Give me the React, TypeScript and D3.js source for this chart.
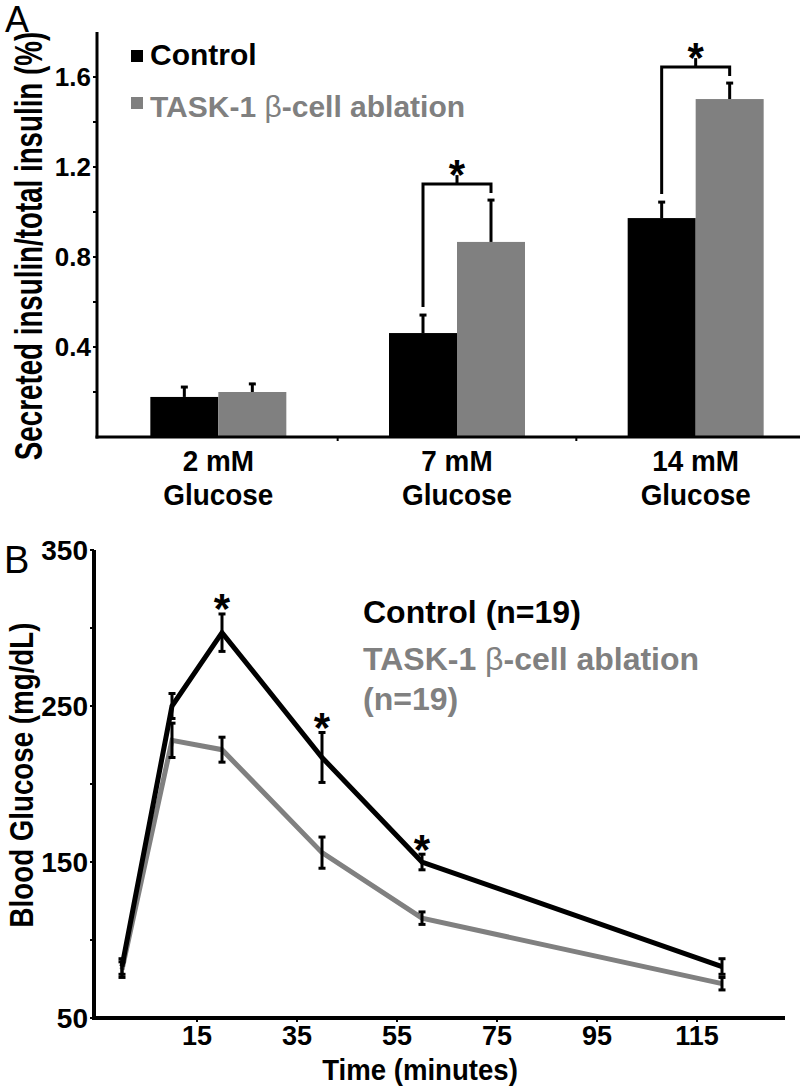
import React from "react";
import * as d3 from "d3";

// ---------- Panel A data ----------
const groupsA = ["2 mM", "7 mM", "14 mM"];
const groupSubLabel = "Glucose";
const seriesA = ["Control", "TASK-1"];
const controlA = [0.178, 0.462, 0.973];
const controlAErr = [0.044, 0.08, 0.071];
const taskA = [0.2, 0.867, 1.502];
const taskAErr = [0.036, 0.186, 0.071];
const sigA = [false, true, true];
const yTicksA = [0.4, 0.8, 1.2, 1.6];
const yMinorA = [0.2, 0.6, 1.0, 1.4];

// ---------- Panel B data ----------
const timesB = [0, 10, 20, 40, 60, 120];
const controlB = [83, 250, 297, 217, 150, 83];
const controlBErr = [5, 8, 12, 16, 5, 5];
const taskB = [81, 228, 222, 156, 114, 72];
const taskBErr = [5, 11, 8, 10, 4, 4];
const sigB = [false, false, true, true, true, false];
const xTicksB = [15, 35, 55, 75, 95, 115];
const yTicksB = [50, 150, 250, 350];
const yMinorB = [100, 200, 300];

const BLACK = "#000";
const GRAY = "#808080";
const FONT = "'Liberation Sans', Arial, Helvetica, sans-serif";

export default function App() {
  // ----- scales A -----
  const yA = d3.scaleLinear().domain([0, 1.8]).range([437, 32]);
  const xG = d3.scaleBand<string>().domain(groupsA).range([99, 815]);
  const xS = d3
    .scaleBand<string>()
    .domain(seriesA)
    .range([0, xG.bandwidth()])
    .paddingInner(0)
    .paddingOuter(0.755);
  const bw = xS.bandwidth();

  // ----- scales B -----
  const xB = d3.scaleLinear().domain([-5.6, 132.6]).range([94, 785]);
  const yB = d3.scaleLinear().domain([50, 350]).range([1018, 550]);
  const lineGen = d3
    .line<number>()
    .x((_, i) => xB(timesB[i]))
    .y((d) => yB(d));

  const starFs = 42;
  const starOff = 0.56 * starFs;

  const errUp = (x: number, y0: number, y1: number, key: string) => (
    <g key={key} stroke={BLACK} strokeWidth={3}>
      <line x1={x} x2={x} y1={y0} y2={y1} />
      <line x1={x - 3.5} x2={x + 3.5} y1={y1} y2={y1} />
    </g>
  );
  const errBoth = (x: number, yLo: number, yHi: number, key: string) => (
    <g key={key} stroke={BLACK} strokeWidth={3}>
      <line x1={x} x2={x} y1={yLo} y2={yHi} />
      <line x1={x - 3.5} x2={x + 3.5} y1={yLo} y2={yLo} />
      <line x1={x - 3.5} x2={x + 3.5} y1={yHi} y2={yHi} />
    </g>
  );

  return (
    <svg
      width={800}
      height={1086}
      style={{ position: "absolute", left: 0, top: 0, display: "block", background: "#fff" }}
      fontFamily={FONT}
    >
      <rect width={800} height={1086} fill="#fff" />

      {/* ================= Panel A ================= */}
      <text x={5} y={32} fontSize={36} fill={BLACK}>A</text>

      {/* bars */}
      {groupsA.map((g, i) => {
        const x0 = xG(g)!;
        const xc = x0 + xS("Control")!;
        const xt = x0 + xS("TASK-1")!;
        return (
          <g key={g}>
            <rect x={xc} y={yA(controlA[i])} width={bw} height={yA(0) - yA(controlA[i])} fill={BLACK} />
            <rect x={xt} y={yA(taskA[i])} width={bw} height={yA(0) - yA(taskA[i])} fill={GRAY} />
            {errUp(xc + bw / 2, yA(controlA[i]), yA(controlA[i] + controlAErr[i]), "ec")}
            {errUp(xt + bw / 2, yA(taskA[i]), yA(taskA[i] + taskAErr[i]), "et")}
          </g>
        );
      })}

      {/* significance brackets A */}
      {groupsA.map((g, i) => {
        if (!sigA[i]) return null;
        const x0 = xG(g)!;
        const xl = x0 + xS("Control")! + bw / 2;
        const xr = x0 + xS("TASK-1")! + bw / 2;
        const topC = yA(controlA[i] + controlAErr[i]);
        const topT = yA(taskA[i] + taskAErr[i]);
        const yb = Math.min(topC, topT) - 16;
        const xm = (xl + xr) / 2;
        return (
          <g key={"sig" + g}>
            <path
              d={`M${xl},${topC - 8}V${yb}H${xr}V${topT - 7}`}
              fill="none"
              stroke={BLACK}
              strokeWidth={3}
            />
            <line x1={xm} x2={xm} y1={yb} y2={yb - 9} stroke={BLACK} strokeWidth={3} />
            <text x={xm} y={yb - 19 + starOff} fontSize={starFs} fontWeight="bold" textAnchor="middle">*</text>
          </g>
        );
      })}

      {/* axes A */}
      <line x1={97} x2={97} y1={yA(1.8)} y2={yA(0) + 1.5} stroke={BLACK} strokeWidth={3} />
      <line x1={95.5} x2={800} y1={yA(0)} y2={yA(0)} stroke={BLACK} strokeWidth={3} />
      {yTicksA.concat(yMinorA).map((t) => (
        <line key={"ta" + t} x1={93} x2={97} y1={yA(t)} y2={yA(t)} stroke={BLACK} strokeWidth={2} />
      ))}
      {groupsA.slice(1).map((g) => (
        <line key={"xt" + g} x1={xG(g)!} x2={xG(g)!} y1={yA(0)} y2={yA(0) + 4} stroke={BLACK} strokeWidth={2} />
      ))}
      {yTicksA.map((t) => (
        <text key={"tl" + t} x={91} y={yA(t) + 9} fontSize={26} fontWeight="bold" textAnchor="end">
          {t.toFixed(1)}
        </text>
      ))}
      {groupsA.map((g) => {
        const xc = xG(g)! + xG.bandwidth() / 2;
        return (
          <g key={"gl" + g} fontSize={30} fontWeight="bold" textAnchor="middle">
            <text transform={`translate(${xc},471) scale(0.93,1)`}>{g}</text>
            <text transform={`translate(${xc},505) scale(0.93,1)`}>{groupSubLabel}</text>
          </g>
        );
      })}
      <text
        transform="translate(42,246) rotate(-90) scale(0.73,1)"
        fontSize={38}
        fontWeight="bold"
        textAnchor="middle"
      >
        Secreted insulin/total insulin (%)
      </text>

      {/* legend A */}
      <rect x={131} y={50} width={12} height={12} fill={BLACK} />
      <text x={150} y={65} fontSize={30} fontWeight="bold" fill={BLACK}>Control</text>
      <rect x={131} y={97} width={12} height={12} fill={GRAY} />
      <text x={150} y={117} fontSize={30} fontWeight="bold" fill={GRAY}>
        TASK-1 <tspan fontWeight="normal">β</tspan>-cell ablation
      </text>

      {/* ================= Panel B ================= */}
      <text x={4} y={573} fontSize={38} fill={BLACK}>B</text>

      <path d={lineGen(taskB)!} fill="none" stroke={GRAY} strokeWidth={5} strokeLinejoin="miter" />
      <path d={lineGen(controlB)!} fill="none" stroke={BLACK} strokeWidth={5} strokeLinejoin="miter" />

      {timesB.map((t, i) => (
        <g key={"eb" + t}>
          {errBoth(xB(t), yB(controlB[i] - controlBErr[i]), yB(controlB[i] + controlBErr[i]), "c")}
          {errBoth(xB(t), yB(taskB[i] - taskBErr[i]), yB(taskB[i] + taskBErr[i]), "t")}
          {sigB[i] && (
            <text
              x={xB(t)}
              y={yB(controlB[i] + controlBErr[i]) - 14 + starOff}
              fontSize={starFs}
              fontWeight="bold"
              textAnchor="middle"
            >
              *
            </text>
          )}
        </g>
      ))}

      {/* axes B */}
      <line x1={94} x2={94} y1={yB(350)} y2={yB(50) + 2} stroke={BLACK} strokeWidth={4} />
      <line x1={92} x2={785} y1={yB(50)} y2={yB(50)} stroke={BLACK} strokeWidth={4} />
      {yTicksB.concat(yMinorB).map((t) => (
        <line key={"tb" + t} x1={90} x2={94} y1={yB(t)} y2={yB(t)} stroke={BLACK} strokeWidth={2} />
      ))}
      {xTicksB.map((t) => (
        <line key={"xb" + t} x1={xB(t)} x2={xB(t)} y1={yB(50)} y2={yB(50) + 4} stroke={BLACK} strokeWidth={2} />
      ))}
      {yTicksB.map((t) => (
        <text key={"ybl" + t} x={88} y={yB(t) + 10} fontSize={28} fontWeight="bold" textAnchor="end">
          {t}
        </text>
      ))}
      {xTicksB.map((t) => (
        <text key={"xbl" + t} x={xB(t)} y={1045} fontSize={27} fontWeight="bold" textAnchor="middle">
          {t}
        </text>
      ))}
      <text transform="translate(420,1080) scale(0.92,1)" fontSize={30} fontWeight="bold" textAnchor="middle">
        Time (minutes)
      </text>
      <text
        transform="translate(33,775) rotate(-90) scale(0.84,1)"
        fontSize={33}
        fontWeight="bold"
        textAnchor="middle"
      >
        Blood Glucose (mg/dL)
      </text>

      {/* legend B */}
      <text x={363} y={623} fontSize={32} fontWeight="bold" fill={BLACK}>Control (n=19)</text>
      <text x={363} y={670} fontSize={32} fontWeight="bold" fill={GRAY}>
        TASK-1 <tspan fontWeight="normal">β</tspan>-cell ablation
      </text>
      <text x={363} y={710} fontSize={32} fontWeight="bold" fill={GRAY}>(n=19)</text>
    </svg>
  );
}
